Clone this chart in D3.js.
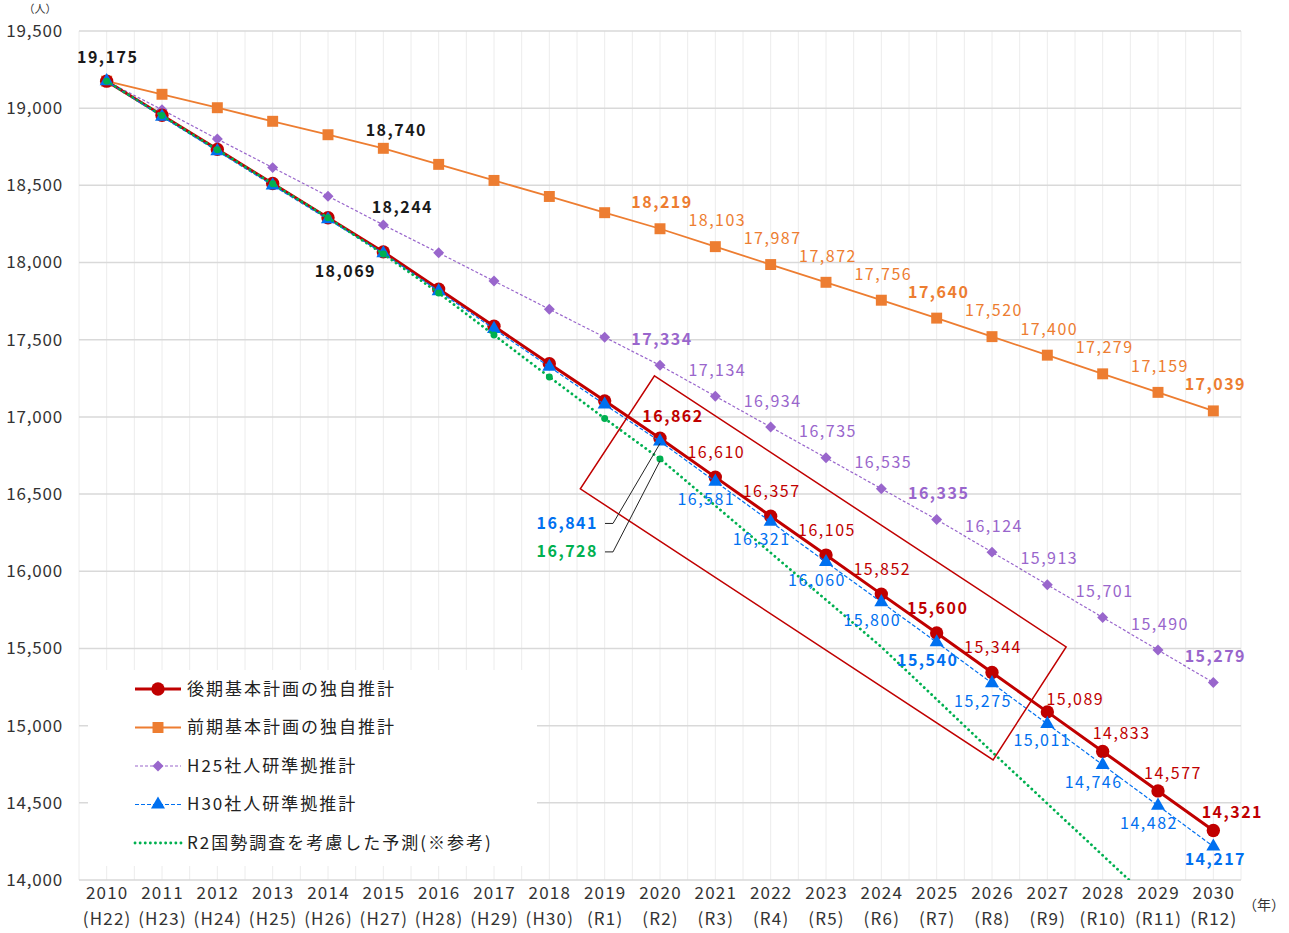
<!DOCTYPE html>
<html>
<head>
<meta charset="utf-8">
<script src="https://cdn.jsdelivr.net/npm/d3@7"></script>
<style>
body { margin: 0; background: #fff; }
text { font-family: "Noto Sans CJK JP", "Noto Sans", sans-serif; }
</style>
</head>
<body>
<script>
// categories
var years = [2010, 2011, 2012, 2013, 2014, 2015, 2016, 2017, 2018, 2019, 2020,
             2021, 2022, 2023, 2024, 2025, 2026, 2027, 2028, 2029, 2030];
var eras = ["(H22)", "(H23)", "(H24)", "(H25)", "(H26)", "(H27)", "(H28)", "(H29)", "(H30)", "(R1)", "(R2)",
            "(R3)", "(R4)", "(R5)", "(R6)", "(R7)", "(R8)", "(R9)", "(R10)", "(R11)", "(R12)"];

// series values (persons)
var latePlan = [19175, 18954, 18733, 18512, 18290, 18069, 17828, 17587, 17345, 17104, 16862,
                16610, 16357, 16105, 15852, 15600, 15344, 15089, 14833, 14577, 14321];
var earlyPlan = [19175, 19090, 19003, 18915, 18828, 18740, 18636, 18532, 18428, 18323, 18219,
                 18103, 17987, 17872, 17756, 17640, 17520, 17400, 17279, 17159, 17039];
var h25 = [19175, 18990, 18800, 18615, 18430, 18244, 18063, 17880, 17698, 17516, 17334,
           17134, 16934, 16735, 16535, 16335, 16124, 15913, 15701, 15490, 15279];
var h30 = [19175, 18945, 18722, 18500, 18280, 18060, 17815, 17570, 17325, 17080, 16841,
           16581, 16321, 16060, 15800, 15540, 15275, 15011, 14746, 14482, 14217];
var r2 = [19175, 18952, 18731, 18510, 18290, 18055, 17803, 17531, 17259, 16990, 16728,
          16425, 16120, 15815, 15510, 15170, 14830, 14495, 14160, 13825, 13490];

var yTicks = [14000, 14500, 15000, 15500, 16000, 16500, 17000, 17500, 18000, 18500, 19000, 19500];

var legendNames = ["後期基本計画の独自推計", "前期基本計画の独自推計", "H25社人研準拠推計",
                   "H30社人研準拠推計", "R2国勢調査を考慮した予測(※参考)"];

// highlight box corners, in (year, persons)
var boxCorners = [[2019.9, 17266], [2027.34, 15510], [2026.02, 14778], [2018.56, 16534]];

var W = 1289, H = 933;
var plot = {left: 79, right: 1241, top: 31, bottom: 880};

var svg = d3.select("body").append("svg")
    .attr("width", W).attr("height", H);

var x = d3.scalePoint().domain(years).range([plot.left, plot.right]).padding(0.5);
var xf = d3.scaleLinear().domain([2010, 2030]).range([x(2010), x(2030)]);
var y = d3.scaleLinear().domain([14000, 19500]).range([plot.bottom, plot.top]);

// vertical grid (category centres and boundaries)
var half = x.step() / 2;
var vLines = d3.range(0, years.length * 2 + 1).map(function (k) { return plot.left + k * half; });
svg.append("g").selectAll("line").data(vLines).join("line")
    .attr("x1", function (d) { return d; }).attr("x2", function (d) { return d; })
    .attr("y1", plot.top).attr("y2", plot.bottom)
    .attr("stroke", "#ececec").attr("stroke-width", 1);

// horizontal grid
svg.append("g").selectAll("line").data(yTicks).join("line")
    .attr("x1", plot.left).attr("x2", plot.right)
    .attr("y1", function (d) { return y(d); }).attr("y2", function (d) { return y(d); })
    .attr("stroke", "#d9d9d9").attr("stroke-width", 1.5);

// y axis
var yAxis = svg.append("g")
    .attr("transform", "translate(" + plot.left + ",0)")
    .call(d3.axisLeft(y).tickValues(yTicks).tickFormat(d3.format(",")).tickSize(0).tickPadding(16));
yAxis.select(".domain").remove();
yAxis.selectAll("text").attr("font-size", 17).attr("fill", "#333").attr("letter-spacing", 0.8)
    .style("font-family", "'Noto Sans CJK JP', sans-serif");

// x axis
var xAxis = svg.append("g")
    .attr("transform", "translate(0," + plot.bottom + ")")
    .call(d3.axisBottom(x).tickSize(0).tickFormat(""));
xAxis.select(".domain").remove();
xAxis.selectAll(".tick").each(function (d, i) {
    var t = d3.select(this).append("text").attr("fill", "#333").attr("font-size", 17)
        .attr("letter-spacing", 1.2).attr("text-anchor", "middle");
    t.append("tspan").attr("x", 0).attr("y", 19).text(d);
    t.append("tspan").attr("x", 0).attr("y", 45).text(eras[i]);
});

svg.append("text").attr("x", 40).attr("y", 13).attr("text-anchor", "middle")
    .attr("font-size", 11).attr("fill", "#333").text("（人）");
svg.append("text").attr("x", 1264).attr("y", 910).attr("text-anchor", "middle")
    .attr("font-size", 14).attr("fill", "#333").text("（年）");

// clip for lines going below the axis
svg.append("clipPath").attr("id", "plotclip").append("rect")
    .attr("x", plot.left).attr("y", plot.top)
    .attr("width", plot.right - plot.left).attr("height", plot.bottom - plot.top);

var line = d3.line()
    .x(function (d, i) { return x(years[i]); })
    .y(function (d) { return y(d); });

var series = [
    {key: "early", data: earlyPlan, color: "#ED7D31", width: 1.8, dash: null,
     symbol: d3.symbolSquare, size: 120, rot: 0},
    {key: "h25", data: h25, color: "#9966CC", width: 1.2, dash: "3,2",
     symbol: d3.symbolSquare, size: 60, rot: 45},
    {key: "late", data: latePlan, color: "#C00000", width: 3, dash: null,
     symbol: d3.symbolCircle, size: 140, rot: 0},
    {key: "h30", data: h30, color: "#0070F0", width: 1.2, dash: "4,2",
     symbol: d3.symbolTriangle, size: 85, rot: 0},
    {key: "r2", data: r2, color: "#00B050", width: 2.8, dash: "0.1,5",
     symbol: d3.symbolCircle, size: 38, rot: 0, markerCount: 11}
];

var sym = d3.symbol();
series.forEach(function (s) {
    var g = svg.append("g");
    g.append("path").datum(s.data)
        .attr("d", line)
        .attr("fill", "none")
        .attr("stroke", s.color)
        .attr("stroke-width", s.width)
        .attr("stroke-dasharray", s.dash)
        .attr("stroke-linecap", s.key === "r2" ? "round" : "butt")
        .attr("clip-path", "url(#plotclip)");
    var pts = s.markerCount ? s.data.slice(0, s.markerCount) : s.data;
    g.selectAll("path.m").data(pts).join("path").attr("class", "m")
        .attr("d", sym.type(s.symbol).size(s.size)())
        .attr("transform", function (d, i) {
            return "translate(" + x(years[i]) + "," + y(d) + ") rotate(" + s.rot + ")";
        })
        .attr("fill", s.color);
});

// highlight box
svg.append("path")
    .datum(boxCorners)
    .attr("d", d3.line().x(function (d) { return xf(d[0]); }).y(function (d) { return y(d[1]); })
        .curve(d3.curveLinearClosed))
    .attr("fill", "none").attr("stroke", "#C00000").attr("stroke-width", 1.5);

// data labels
var fmt = d3.format(",");
function addLabel(arr, i, dx, dy, color, bold, anchor) {
    svg.append("text")
        .attr("x", x(years[i]) + dx)
        .attr("y", y(arr[i]) + dy)
        .attr("dy", "0.35em")
        .attr("text-anchor", anchor || "middle")
        .attr("font-size", 16)
        .attr("font-weight", bold ? 700 : 400)
        .attr("letter-spacing", 1.5)
        .attr("fill", color)
        .text(fmt(arr[i]));
}

var black = "#1a1a1a";
addLabel(latePlan, 0, 1, -24, black, true);
addLabel(earlyPlan, 5, 13, -18, black, true);
addLabel(h25, 5, 19, -17, black, true);
addLabel(latePlan, 5, -38, 20, black, true);

var boldIdx = [10, 15, 20];
for (var i = 10; i <= 20; i++) {
    var b = boldIdx.indexOf(i) >= 0;
    addLabel(earlyPlan, i, 2, -26, "#ED7D31", b);
    addLabel(h25, i, 2, -26, "#9966CC", b);
}
var redOff = {10: [13, -22], 17: [28, -12], 18: [19, -18], 19: [15, -18], 20: [19, -18]};
for (var i = 10; i <= 20; i++) {
    var o = redOff[i] || [1, -25];
    addLabel(latePlan, i, o[0], o[1], "#C00000", boldIdx.indexOf(i) >= 0);
}
var blueOff = {17: [-5, 16], 20: [2, 13]};
for (var i = 11; i <= 20; i++) {
    var o = blueOff[i] || [-9, 18];
    addLabel(h30, i, o[0], o[1], "#0070F0", boldIdx.indexOf(i) >= 0);
}

// leader labels at 2020
function leader(arr, color, dy) {
    var mx = x(2020), my = y(arr[10]);
    var ly = my + dy;
    svg.append("path")
        .attr("d", d3.line()([[mx - 55, ly], [mx - 47, ly], [mx, my + 2]]))
        .attr("fill", "none").attr("stroke", "#222").attr("stroke-width", 1);
    svg.append("text")
        .attr("x", mx - 62).attr("y", ly).attr("dy", "0.35em")
        .attr("text-anchor", "end").attr("font-size", 16).attr("font-weight", 700)
        .attr("letter-spacing", 1.5)
        .attr("fill", color).text(fmt(arr[10]));
}
leader(h30, "#0070F0", 82);
leader(r2, "#00B050", 93);

// legend
var lg = svg.append("g");
lg.append("rect").attr("x", 88).attr("y", 670).attr("width", 449).attr("height", 196).attr("fill", "#fff");
series.slice().sort(function (a, b) {
    var order = ["late", "early", "h25", "h30", "r2"];
    return order.indexOf(a.key) - order.indexOf(b.key);
}).forEach(function (s, i) {
    var ly = 689 + i * 38.5;
    lg.append("line").attr("x1", 135).attr("x2", 181).attr("y1", ly).attr("y2", ly)
        .attr("stroke", s.color).attr("stroke-width", s.width)
        .attr("stroke-dasharray", s.dash)
        .attr("stroke-linecap", s.key === "r2" ? "round" : "butt");
    if (s.key !== "r2") {
        lg.append("path").attr("d", sym.type(s.symbol).size(s.size)())
            .attr("transform", "translate(158," + ly + ") rotate(" + s.rot + ")")
            .attr("fill", s.color);
    }
    lg.append("text").attr("x", 187).attr("y", ly).attr("dy", "0.35em")
        .attr("font-size", 17).attr("letter-spacing", 2).attr("fill", "#222")
        .text(legendNames[i]);
});
</script>
</body>
</html>
